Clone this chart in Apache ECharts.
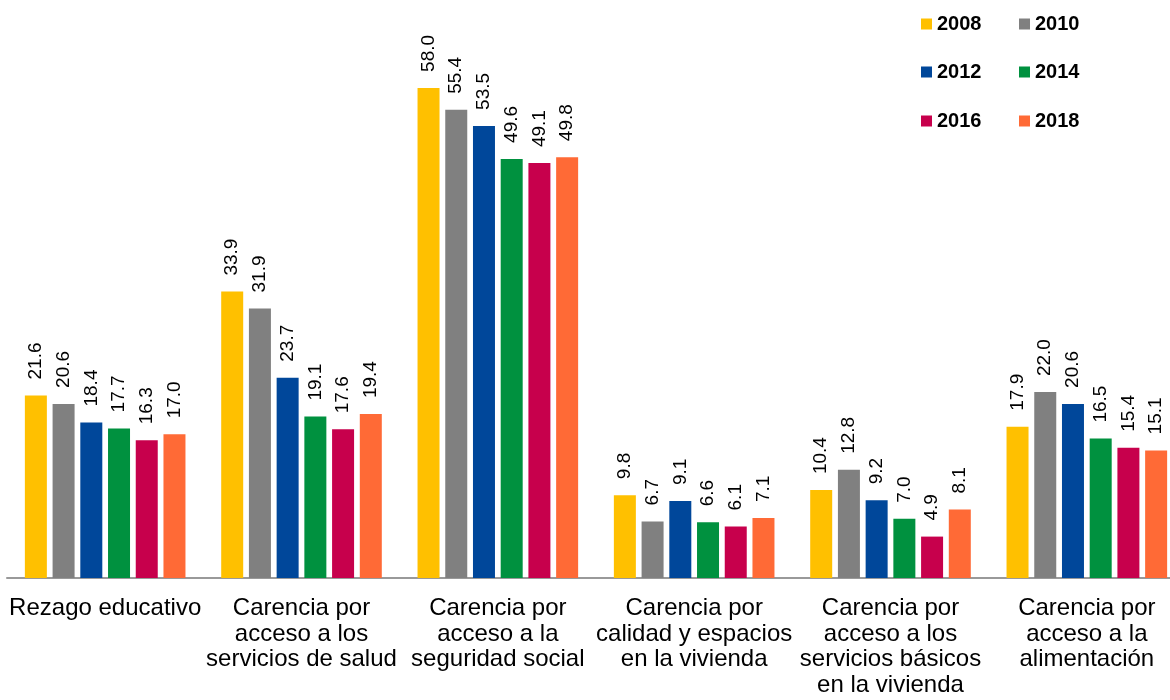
<!DOCTYPE html>
<html>
<head>
<meta charset="utf-8">
<script src="https://cdn.jsdelivr.net/npm/echarts@6/dist/echarts.min.js"></script>
<style>html,body{margin:0;padding:0;background:#fff}#c{width:1170px;height:700px}</style>
</head>
<body>
<div id="c"></div>
<script>
const categories = [
  "Rezago educativo",
  "Carencia por\nacceso a los\nservicios de salud",
  "Carencia por\nacceso a la\nseguridad social",
  "Carencia por\ncalidad y espacios\nen la vivienda",
  "Carencia por\nacceso a los\nservicios básicos\nen la vivienda",
  "Carencia por\nacceso a la\nalimentación"
];
const years = ["2008", "2010", "2012", "2014", "2016", "2018"];
const v2008 = [21.6, 33.9, 58.0, 9.8, 10.4, 17.9];
const v2010 = [20.6, 31.9, 55.4, 6.7, 12.8, 22.0];
const v2012 = [18.4, 23.7, 53.5, 9.1, 9.2, 20.6];
const v2014 = [17.7, 19.1, 49.6, 6.6, 7.0, 16.5];
const v2016 = [16.3, 17.6, 49.1, 6.1, 4.9, 15.4];
const v2018 = [17.0, 19.4, 49.8, 7.1, 8.1, 15.1];
const seriesValues = [v2008, v2010, v2012, v2014, v2016, v2018];
const colors = ["#FFC000", "#808080", "#00479A", "#00913F", "#C7004C", "#FF6A36"];

const legendPos = [
  {left: 916, top: 9}, {left: 1014, top: 9},
  {left: 916, top: 57}, {left: 1014, top: 57},
  {left: 916, top: 106}, {left: 1014, top: 106}
];

const chart = echarts.init(document.getElementById('c'), null, {renderer: 'canvas'});
chart.setOption({
  animation: false,
  color: colors,
  legend: years.map((y, i) => ({
    data: [y],
    left: legendPos[i].left,
    top: legendPos[i].top,
    icon: 'rect',
    itemWidth: 11,
    itemHeight: 11,
    itemGap: 5,
    textStyle: {fontFamily: 'Liberation Sans, Arial', fontWeight: 'bold', fontSize: 20, color: '#000'}
  })),
  grid: {left: 7, width: 1178, top: 71, bottom: 122, containLabel: false, outerBoundsMode: 'none'},
  xAxis: {
    type: 'category',
    data: categories,
    axisLine: {show: true, lineStyle: {color: '#999', width: 2}},
    axisTick: {show: false},
    axisLabel: {
      interval: 0,
      margin: 18,
      fontFamily: 'Liberation Sans, Arial',
      fontSize: 24,
      lineHeight: 25.5,
      color: '#000'
    }
  },
  yAxis: {
    type: 'value', min: 0, max: 60,
    show: false,
    splitLine: {show: false}
  },
  series: seriesValues.map((vals, i) => ({
    name: years[i],
    type: 'bar',
    data: vals,
    barWidth: 22,
    barGap: '26%',
    itemStyle: {color: colors[i]},
    label: {
      show: true,
      position: 'top',
      rotate: 90,
      align: 'left',
      verticalAlign: 'middle',
      distance: 16,
      formatter: p => p.value.toFixed(1),
      fontFamily: 'Liberation Sans, Arial',
      fontSize: 19,
      color: '#000'
    }
  }))
});
</script>
</body>
</html>
